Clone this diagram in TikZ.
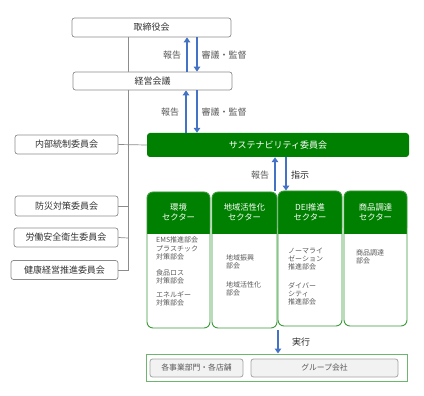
\documentclass[tikz,border=0pt]{standalone}
\usepackage{fontspec}
\setmainfont{Noto Sans CJK JP}
\usetikzlibrary{arrows.meta}
\definecolor{dkgreen}{HTML}{008000}
\definecolor{secline}{HTML}{3A9A3A}
\definecolor{arrblue}{HTML}{4472C4}
\definecolor{txtgray}{HTML}{595959}
\definecolor{boxline}{HTML}{8C8C8C}
\definecolor{outgreen}{HTML}{6DB66D}
\definecolor{grayfill}{HTML}{F2F2F2}
\begin{document}
\begin{tikzpicture}[x=1pt,y=-1pt,
  wbox/.style={draw=boxline, fill=white, rounded corners=2.5pt, line width=0.7pt,
    font=\fontsize{9}{10}\selectfont, text=black!80, inner sep=0pt},
  gbox/.style={draw=boxline!80, fill=grayfill, rounded corners=2.5pt, line width=0.8pt,
    font=\fontsize{7.8}{9}\selectfont, text=txtgray, inner sep=0pt},
  sbox/.style={fill=dkgreen, rounded corners=3pt, font=\fontsize{9}{10}\selectfont,
    text=white, inner sep=0pt},
  secbox/.style={draw=secline, line width=0.9pt, rounded corners=6pt, inner sep=0pt},
  hdr/.style={font=\fontsize{8.3}{10}\selectfont, text=white, align=center, inner sep=0pt},
  body/.style={font=\fontsize{7}{8}\selectfont, text=txtgray, align=left, anchor=west, inner sep=0pt},
  lbl/.style={font=\fontsize{9}{10}\selectfont, text=txtgray, inner sep=0pt},
  conn/.style={draw=boxline, line width=0.7pt},
  barrow/.style={draw=arrblue, line width=2.2pt, -{Triangle[width=6.5pt,length=5pt]}},
]
\useasboundingbox (0,0) rectangle (424,396);

% spine
\coordinate (spinetop) at (128,37);
\coordinate (spinebot) at (128,271);
\draw[conn] (spinetop) -- (spinebot);

% top boxes
\node[wbox, minimum width=159pt, minimum height=19pt] (tori) at (151.5,27.5) {取締役会};
\node[wbox, minimum width=159pt, minimum height=18pt] (keiei) at (152.5,81) {経営会議};
\node[sbox, minimum width=262pt, minimum height=24pt] (sus) at (278,145) {サステナビリティ委員会};

% left committees
\node[wbox, minimum width=103pt, minimum height=19pt] (naibu) at (66.5,144.5) {内部統制委員会};
\node[wbox, minimum width=103pt, minimum height=20pt] (bousai) at (66.5,206) {防災対策委員会};
\node[wbox, minimum width=104pt, minimum height=19pt] (roudou) at (66,237.5) {労働安全衛生委員会};
\node[wbox, minimum width=107pt, minimum height=19pt] (kenkou) at (64.5,270) {健康経営推進委員会};

\coordinate (jb) at (128,206);
\coordinate (jr) at (128,238);
\coordinate (jk) at (128,270);
\draw[conn] (naibu.east) -- (sus.west);
\draw[conn] (bousai.east) -- (jb);
\draw[conn] (roudou.east) -- (jr);
\draw[conn] (kenkou.east) -- (jk);

% arrows between top boxes
\coordinate (ax1) at (187,0);
\coordinate (ax2) at (197,0);
\draw[barrow] (keiei.north -| ax1) -- (tori.south -| ax1);
\draw[barrow] (tori.south -| ax2) -- (keiei.north -| ax2);
\node[lbl] (l1) at (172,55) {報告};
\node[lbl] (l2) at (224,55) {審議・監督};

\coordinate (bx1) at (186,0);
\coordinate (bx2) at (197,0);
\draw[barrow] (sus.north -| bx1) -- (keiei.south -| bx1);
\draw[barrow] (keiei.south -| bx2) -- (sus.north -| bx2);
\node[lbl] (l3) at (170,112) {報告};
\node[lbl] (l4) at (224,112) {審議・監督};

% sectors
\fill[dkgreen, rounded corners=6pt] (147,192) rectangle (210,234);
\fill[dkgreen] (147,226) rectangle (210,234);
\node[secbox, minimum width=63pt, minimum height=136pt] (s1) at (178.5,260) {};
\fill[dkgreen, rounded corners=6pt] (212,192) rectangle (277,234);
\fill[dkgreen] (212,226) rectangle (277,234);
\node[secbox, minimum width=65pt, minimum height=136pt] (s2) at (244.5,260) {};
\fill[dkgreen, rounded corners=6pt] (278,191) rectangle (342,234);
\fill[dkgreen] (278,226) rectangle (342,234);
\node[secbox, minimum width=64pt, minimum height=135pt] (s3) at (310,258.5) {};
\fill[dkgreen, rounded corners=6pt] (344,191) rectangle (407,234);
\fill[dkgreen] (344,226) rectangle (407,234);
\node[secbox, minimum width=63pt, minimum height=135pt] (s4) at (375.5,258.5) {};

\node[hdr] (h1) at (178.5,212) {環境\\セクター};
\node[hdr] (h2) at (244.5,212) {地域活性化\\セクター};
\node[hdr] (h3) at (310,212) {DEI推進\\セクター};
\node[hdr] (h4) at (375.5,212) {商品調達\\セクター};

\node[body] (t11) at (156,240) {EMS推進部会};
\node[body] (t12) at (156,252.5) {プラスチック\\対策部会};
\node[body] (t13) at (156,277) {食品ロス\\対策部会};
\node[body] (t14) at (156,299) {エネルギー\\対策部会};
\node[body] (t21) at (226,261.5) {地域振興\\部会};
\node[body] (t22) at (226,288.5) {地域活性化\\部会};
\node[body] (t31) at (288,259.5) {ノーマライ\\ゼーション\\推進部会};
\node[body] (t32) at (288,293.5) {ダイバー\\シティ\\推進部会};
\node[body] (t41) at (356,257) {商品調達\\部会};

% arrows sus <-> sectors
\coordinate (cx1) at (275,0);
\coordinate (cx2) at (286,0);
\draw[barrow] (s3.north -| cx1) -- (sus.south -| cx1);
\draw[barrow] (sus.south -| cx2) -- (s3.north -| cx2);
\node[lbl] (l5) at (260,175) {報告};
\node[lbl, text=black!85] (l6) at (300,175) {指示};

% bottom
\node[draw=outgreen, line width=1pt, minimum width=261pt, minimum height=27pt, inner sep=0pt] (outer) at (276.5,367.5) {};
\node[gbox, minimum width=93pt, minimum height=18pt] (g1) at (196.5,368) {各事業部門・各店舗};
\node[gbox, minimum width=147pt, minimum height=18pt] (g2) at (324.5,368) {グループ会社};
\coordinate (ex) at (278,0);
\coordinate (etop) at (278,330);
\draw[barrow] (etop) -- (outer.north -| ex);
\node[lbl, text=black!85] (l7) at (301,342) {実行};
\end{tikzpicture}
\end{document}
